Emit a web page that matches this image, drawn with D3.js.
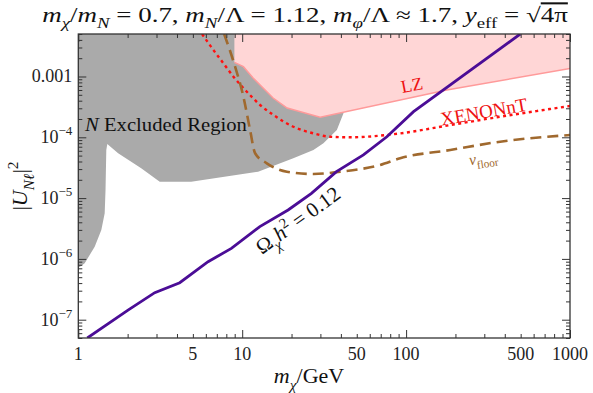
<!DOCTYPE html>
<html><head><meta charset="utf-8">
<script src="https://cdn.jsdelivr.net/npm/d3@7"></script>
<style>body{margin:0;background:#fff}svg{display:block}</style>
</head><body><svg id="c" width="593" height="393"></svg>
<script>
// ---- data ----
const xTicks=[1,5,10,50,100,500,1000];
const xTickLabels=["1","5","10","50","100","500","1000"];
const yTicks=[1e-7,1e-6,1e-5,1e-4,1e-3];
const yTickBase=["10","10","10","10","0.001"];
const yTickExp=["−7","−6","−5","−4",""];

const excludedM=[1,42.5,41.5,37.8,31.3,27.2,20.5,12.5,4.88,3.14,2.42,1.75,1.503,1.482,1.466,1.449,1.382,1.259,1.094,1];
const excludedU=[5e-3,5e-3,2.48e-4,1.32e-4,7.96e-5,6.18e-5,4.52e-5,2.72e-5,1.86e-5,1.86e-5,3.09e-5,5.46e-5,7.76e-5,6.18e-5,1.36e-5,5.62e-6,2.99e-6,1.59e-6,8.47e-7,7.08e-7];

const lzM=[8.96,8.96,10.17,11.66,15.44,18.8,29.9,177,1000,1000];
const lzU=[5e-3,1.71e-3,1.45e-3,9.45e-4,4.43e-4,3.03e-4,2.13e-4,6.0e-4,1.36e-3,5e-3];

const xenonM=[5.69,5.935,6.67,7.68,8.84,10.67,12.86,15.5,20.54,27.2,34.4,45.6,92,186,375,1000];
const xenonU=[5e-3,4.25e-3,2.73e-3,1.65e-3,9.93e-4,5.62e-4,3.40e-4,2.33e-4,1.49e-4,1.16e-4,1.02e-4,1.0e-4,1.16e-4,1.59e-4,2.18e-4,3.27e-4];

const nuM=[7.76,9.05,10.17,11.17,11.99,14.13,18.73,27.2,39.6,69.5,92,186,375,1000];
const nuU=[5e-3,1.45e-3,4.66e-4,1.32e-4,5.46e-5,3.73e-5,2.72e-5,2.49e-5,2.72e-5,3.5e-5,4.52e-5,6.18e-5,8.47e-5,1.09e-4];

const relicM=[1.135,2.011,2.927,4.159,6.193,8.59,12.81,19.06,26.46,37.6,54.9,76.3,111,497];
const relicU=[5e-8,1.44e-7,2.78e-7,4.06e-7,9.0e-7,1.49e-6,3.39e-6,6.37e-6,1.20e-5,2.72e-5,5.12e-5,1.02e-4,2.64e-4,5e-3];

// ---- layout ----
const L=78.3,R=570,T=34,B=338;
const FONT="'Liberation Serif', 'DejaVu Serif', serif";
const svg=d3.select("#c");
const x=d3.scaleLog().domain([1,1000]).range([L,R]);
const y=d3.scaleLog().domain([5e-8,5e-3]).range([B,T]);

svg.append("clipPath").attr("id","clip").append("rect").attr("x",L).attr("y",T).attr("width",R-L).attr("height",B-T);
const g=svg.append("g").attr("clip-path","url(#clip)");
const zip=(a,b)=>a.map((v,i)=>[v,b[i]]);
const lin=d3.line().x(d=>x(d[0])).y(d=>y(d[1]));
const smooth=d3.line().x(d=>x(d[0])).y(d=>y(d[1])).curve(d3.curveMonotoneX);

g.append("path").attr("d",lin(zip(excludedM,excludedU))+"Z").attr("fill","#aaaaaa");
const lz=zip(lzM,lzU);
g.append("path").attr("d",lin(lz)+"Z").attr("fill","#ffd6d6");
g.append("path").attr("d",lin(lz.slice(1,9))).attr("fill","none").attr("stroke","#ff9a9a").attr("stroke-width",1.5);
g.append("path").attr("d",smooth(zip(xenonM,xenonU))).attr("fill","none").attr("stroke","#ff1010").attr("stroke-width",2.4).attr("stroke-dasharray","3,3.5");
g.append("path").attr("d",smooth(zip(nuM,nuU))).attr("fill","none").attr("stroke","#a0692e").attr("stroke-width",2.6).attr("stroke-dasharray","11,6");
g.append("path").attr("d",lin(zip(relicM,relicU))).attr("fill","none").attr("stroke","#4b0d96").attr("stroke-width",2.8);

// ---- axes ----
const minorX=[];for(let d=1;d<1000;d*=10)for(let k=2;k<10;k++)minorX.push(d*k);
const minorY=[];for(let d=1e-8;d<5e-3;d*=10)for(let k=2;k<10;k++){const v=d*k;if(v>=5e-8&&v<=5e-3)minorY.push(v);}
const majX=[1,10,100,1000];
function ax(gen,scale,vals,size,tr){
  const a=svg.append("g").attr("transform",tr).call(gen(scale).tickValues(vals).tickSize(size).tickFormat(""));
  a.select(".domain").remove();
  a.selectAll("line").attr("stroke","#333").attr("stroke-width",1);
}
ax(d3.axisBottom,x,majX,-8,`translate(0,${B})`);
ax(d3.axisBottom,x,minorX.filter(v=>majX.indexOf(v)<0),-4,`translate(0,${B})`);
ax(d3.axisTop,x,majX,-8,`translate(0,${T})`);
ax(d3.axisTop,x,minorX.filter(v=>majX.indexOf(v)<0),-4,`translate(0,${T})`);
ax(d3.axisLeft,y,yTicks,-8,`translate(${L},0)`);
ax(d3.axisLeft,y,minorY,-4,`translate(${L},0)`);
ax(d3.axisRight,y,yTicks,-8,`translate(${R},0)`);
ax(d3.axisRight,y,minorY,-4,`translate(${R},0)`);
svg.append("rect").attr("x",L).attr("y",T).attr("width",R-L).attr("height",B-T).attr("fill","none").attr("stroke","#333").attr("stroke-width",1.3);

// tick labels
xTicks.forEach((v,i)=>{
  svg.append("text").attr("x",x(v)).attr("y",B+22).attr("text-anchor","middle")
    .attr("font-family",FONT).attr("font-size",18).attr("fill","#222").text(xTickLabels[i]);
});
yTicks.forEach((v,i)=>{
  const t=svg.append("text").attr("x",L-6).attr("y",y(v)+6).attr("text-anchor","end")
    .attr("font-family",FONT).attr("font-size",18).attr("fill","#222");
  t.append("tspan").text(yTickBase[i]);
  if(yTickExp[i]) t.append("tspan").attr("dy",-8).attr("font-size",13).text(yTickExp[i]);
});

// rich text helper
function rich(sel,segs,fs){
  let shift=0;
  segs.forEach(s=>{
    const ts=sel.append("tspan").text(s.t);
    let target=0,size=fs;
    if(s.sub){target=fs*0.3;size=fs*0.7;}
    if(s.sup){target=-fs*0.4;size=fs*0.7;}
    ts.attr("dy",target-shift).attr("font-size",size);
    shift=target;
    if(s.it) ts.attr("font-style","italic");
    if(s.ov) ts.style("text-decoration","overline");
  });
}
function label(cx,cy,rot,segs,fs,color,width,anchor){
  const grp=svg.append("g");
  const t=grp.append("text").attr("x",0).attr("y",0).attr("text-anchor",anchor||"middle")
    .attr("font-family",FONT).attr("font-size",fs).attr("fill",color);
  rich(t,segs,fs);
  let sx=1;
  if(width){const w=t.node().getComputedTextLength(); sx=width/w;}
  grp.attr("transform",`translate(${cx},${cy}) rotate(${rot}) scale(${sx},1)`);
  return grp;
}

label(305,22,0,[{t:"m",it:1},{t:"χ",it:1,sub:1},{t:"/"},{t:"m",it:1},{t:"N",it:1,sub:1},{t:" = 0.7,  "},
  {t:"m",it:1},{t:"N",it:1,sub:1},{t:"/Λ = 1.12, "},{t:"m",it:1},{t:"φ",it:1,sub:1},{t:"/Λ ≈ 1.7, "},
  {t:"y",it:1},{t:"eff",sub:1},{t:" = √"},{t:"4π",ov:1}],20.5,"#111",526);

label(309,383,0,[{t:"m",it:1},{t:"χ",it:1,sub:1},{t:"/GeV"}],22,"#111",0);
label(27,186,-90,[{t:"|"},{t:"U",it:1},{t:"Nℓ",it:1,sub:1},{t:"|"},{t:"2",sup:1}],22,"#111",0);

label(85,131,0,[{t:"N",it:1},{t:" Excluded Region"}],19,"#111",162,"start");
label(413,91,-11,[{t:"LZ"}],18,"#ee1111",0);
label(485,118,-10,[{t:"XENONnT"}],19,"#ee1111",0);
label(484,163,-9,[{t:"ν",it:1},{t:"floor",sub:1}],16,"#a0692e",0);
label(302,226,-36,[{t:"Ω"},{t:"χ",it:1,sub:1},{t:"h",it:1},{t:"2",sup:1},{t:" = 0.12"}],21,"#111",0);
</script></body></html>
